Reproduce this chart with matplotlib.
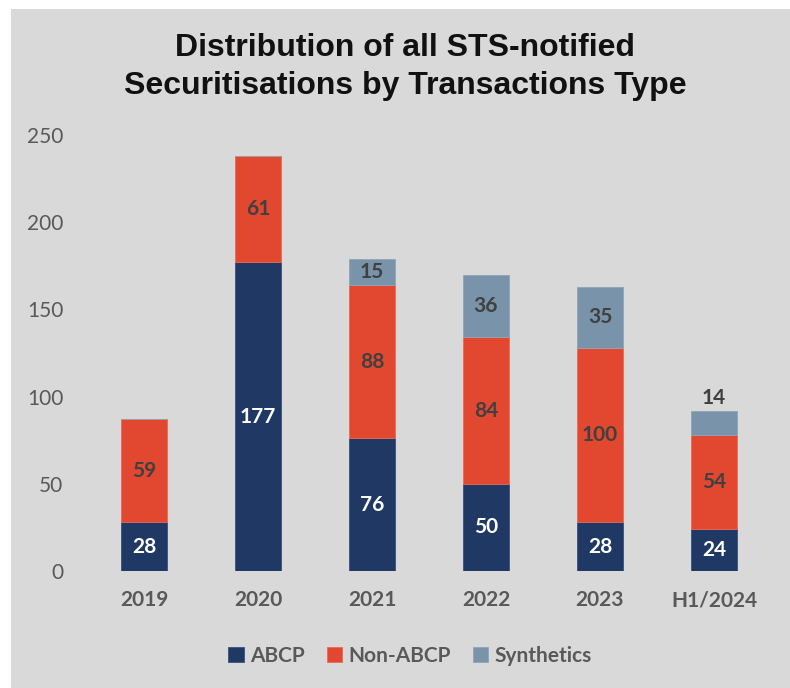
import numpy as np
import matplotlib
matplotlib.use("Agg")
import matplotlib.pyplot as plt
from matplotlib.patches import Rectangle

# data
years = ["2019", "2020", "2021", "2022", "2023", "H1/2024"]
abcp = [28, 177, 76, 50, 28, 24]
non_abcp = [59, 61, 88, 84, 100, 54]
synthetics = [0, 0, 15, 36, 35, 14]

c_abcp = "#1f3864"
c_non = "#e2472f"
c_syn = "#7893aa"
bg = "#d9d9d9"
txt = "#595959"
lbl = "#404040"

plt.rcParams["font.family"] = ["Lato", "DejaVu Sans"]

fig = plt.figure(figsize=(7.9, 6.88), dpi=100, facecolor="white")
fig.patches.append(Rectangle((11 / 790, 0), 1, (688 - 9) / 688,
                             transform=fig.transFigure, facecolor=bg,
                             edgecolor="none", zorder=-10))

ax = fig.add_axes([87 / 790, 117 / 688, 684 / 790, 436 / 688])
ax.set_facecolor("none")

x = np.arange(len(years))
w = 0.4
abcp_a = np.array(abcp)
non_a = np.array(non_abcp)
syn_a = np.array(synthetics)

b1 = ax.bar(x, abcp_a, w, color=c_abcp, edgecolor="#3a5080", linewidth=0.6, label="ABCP")
b2 = ax.bar(x, non_a, w, bottom=abcp_a, color=c_non, edgecolor="#e86a55", linewidth=0.6, label="Non-ABCP")
b3 = ax.bar(x, syn_a, w, bottom=abcp_a + non_a, color=c_syn, edgecolor="#8fa5b8", linewidth=0.6, label="Synthetics")

fs = 15
for i in range(len(years)):
    ax.text(x[i], abcp_a[i] / 2, str(abcp[i]), ha="center", va="center",
            color="white", fontsize=fs, fontweight="bold")
    ax.text(x[i], abcp_a[i] + non_a[i] / 2, str(non_abcp[i]), ha="center",
            va="center", color=lbl, fontsize=fs, fontweight="bold")
    if syn_a[i] > 0:
        top = abcp_a[i] + non_a[i]
        if syn_a[i] < 15:
            ax.text(x[i], top + syn_a[i] + 1.5, str(synthetics[i]), ha="center",
                    va="bottom", color=lbl, fontsize=fs, fontweight="bold")
        else:
            ax.text(x[i], top + syn_a[i] / 2, str(synthetics[i]), ha="center",
                    va="center", color=lbl, fontsize=fs, fontweight="bold")

ax.set_ylim(0, 250)
ax.set_xlim(-0.5, len(years) - 0.5)
ax.set_yticks(range(0, 251, 50))
ax.set_xticks(x)
ax.set_xticklabels(years, fontweight="bold")
ax.tick_params(axis="y", length=0, pad=17, labelsize=15, labelcolor=txt)
ax.tick_params(axis="x", length=0, pad=14, labelsize=15, labelcolor=txt)
for s in ax.spines.values():
    s.set_visible(False)

fig.text(405 / 790, 1 - 67 / 688,
         "Distribution of all STS-notified\nSecuritisations by Transactions Type",
         ha="center", va="center", fontsize=23, fontweight="bold",
         family="Liberation Sans", color="#111111", linespacing=1.35)

leg = fig.legend(handles=[b1, b2, b3], loc="center", bbox_to_anchor=(410 / 790, 1 - 656 / 688),
                 ncol=3, frameon=False, handlelength=0.75, handleheight=0.75,
                 handletextpad=0.3, columnspacing=1.05,
                 prop={"size": 15, "weight": "bold"})
for t in leg.get_texts():
    t.set_color(txt)

fig.savefig("out.png", dpi=100, facecolor="white")
